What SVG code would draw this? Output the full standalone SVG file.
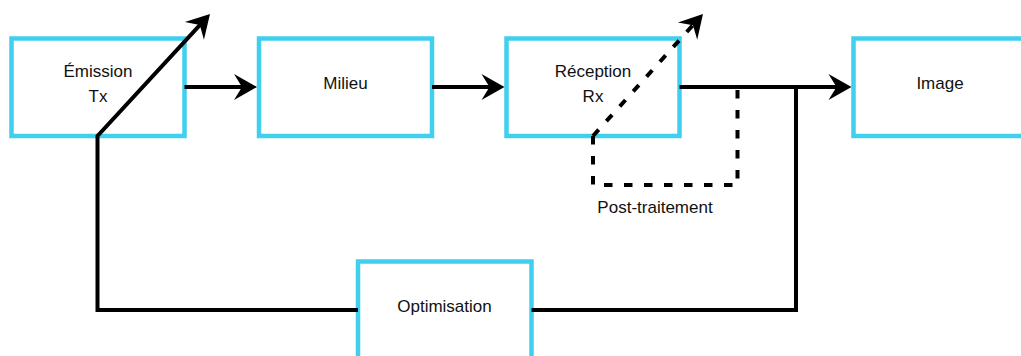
<svg xmlns="http://www.w3.org/2000/svg" width="1021" height="356" viewBox="0 0 1021 356">
<style>
.box{fill:#fff;stroke:#40CFEF;stroke-width:4.5}
.lbl{font-family:"Liberation Sans",Arial,Helvetica,sans-serif;font-size:17px;fill:#111;text-anchor:middle}
.ln{fill:none;stroke:#000;stroke-width:4;stroke-linejoin:miter}
.dash{stroke-dasharray:8.5 11.5}
</style>
<defs>
<marker id="arr" viewBox="-10 -14 25 28" markerWidth="25" markerHeight="28" refX="0" refY="0" markerUnits="userSpaceOnUse" orient="auto">
<path d="M14,0 L-9,-13 L-1,0 L-9,13 Z" fill="#000"/>
</marker>
</defs>
<rect width="1021" height="356" fill="#fff"/>
<g id="emission"><rect class="box" x="11.5" y="38.5" width="173" height="97.5"/><text class="lbl" x="98" y="77">Émission</text><text class="lbl" x="98" y="101.5">Tx</text></g>
<g id="milieu"><rect class="box" x="259" y="38.5" width="173" height="97.5"/><text class="lbl" x="345.5" y="89.3">Milieu</text></g>
<g id="reception"><rect class="box" x="506.5" y="38.5" width="173" height="97.5"/><text class="lbl" x="593" y="77">Réception</text><text class="lbl" x="593" y="101.5">Rx</text></g>
<g id="image"><rect class="box" x="853.5" y="38.5" width="173" height="97.5"/><text class="lbl" x="940" y="89.3">Image</text></g>
<g id="optimisation"><rect class="box" x="358" y="261.5" width="173.5" height="97.5"/><text class="lbl" x="444.5" y="312.3">Optimisation</text></g>
<g id="connectors">
<path class="ln" d="M184.5,87 H243" marker-end="url(#arr)"/>
<path class="ln" d="M432,87 H490.5" marker-end="url(#arr)"/>
<path class="ln" d="M679.5,87 H837.5" marker-end="url(#arr)"/>
<path class="ln" d="M358,310 H97.5 V136 L200.5,24.3" marker-end="url(#arr)"/>
<path class="ln" d="M531.5,310 H796 V87"/>
<path class="ln dash" d="M593,136 L693.6,24.4" marker-end="url(#arr)"/>
<path class="ln dash" d="M593,136 V185 H737.5 V87"/>
</g>
<g id="post-traitement"><text class="lbl" x="655" y="213.3">Post-traitement</text></g>
</svg>
